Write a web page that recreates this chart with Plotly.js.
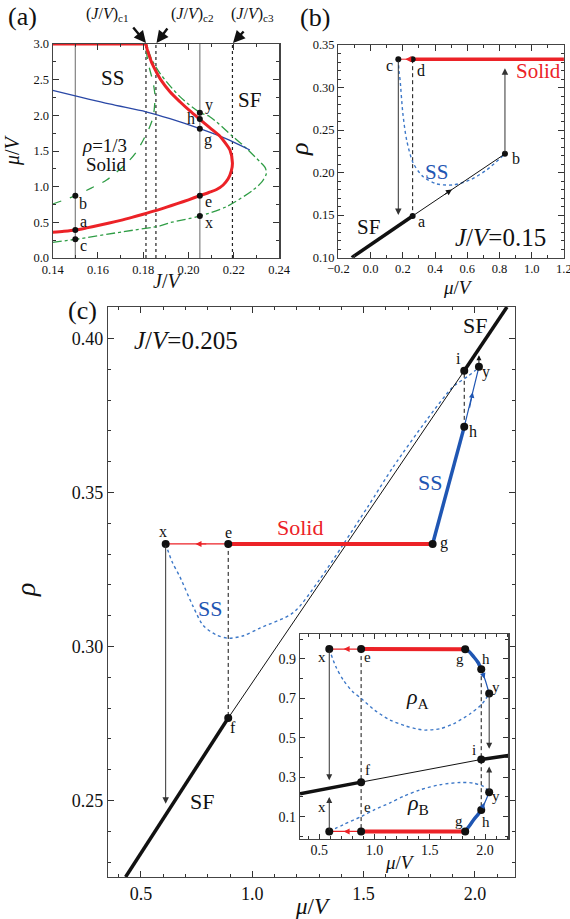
<!DOCTYPE html>
<html><head><meta charset="utf-8">
<script src="https://cdn.plot.ly/plotly-3.0.1.min.js"></script>
<style>html,body{margin:0;padding:0;background:#fff}#chart{width:570px;height:919px}</style>
</head><body><div id="chart"></div>
<script>
// ================= DATA =================
// ---- Panel (a): phase diagram, J/V vs mu/V ----
const aRedTopJ = [0.14, 0.1812];
const aRedTopMu = [3.0, 3.0];
const aRedJ  = [0.1812,0.1816,0.1826,0.1840,0.1859,0.1877,0.1918,0.1962,0.2005,0.205,0.2095,0.2138,0.2163,0.2183,0.2194,0.2189,0.2175,0.2152,0.2124,0.209,0.205,0.2,0.195,0.19,0.185,0.18,0.175,0.17,0.165,0.16,0.155,0.15,0.145,0.14];
const aRedMu = [3.0,2.94,2.84,2.72,2.60,2.50,2.33,2.19,2.065,1.944,1.825,1.71,1.61,1.514,1.33,1.22,1.11,1.02,0.96,0.918,0.874,0.816,0.762,0.71,0.66,0.614,0.57,0.528,0.49,0.455,0.422,0.392,0.374,0.36];
const aDashJ  = [0.14,0.1501,0.157,0.1638,0.1726,0.1768,0.18,0.1826,0.1844,0.1852,0.1848,0.1841,0.1822,0.1812,0.181];
const aDashMu = [0.757,0.874,0.98,1.093,1.327,1.48,1.654,1.82,1.981,2.262,2.38,2.495,2.729,2.94,3.0];
const aDashDotJ  = [0.14,0.1501,0.1712,0.1874,0.1918,0.205,0.2168,0.2285,0.2325,0.2344,0.2338,0.2315,0.2256,0.2197,0.2094,0.205,0.1962,0.1874,0.1835,0.1815];
const aDashDotMu = [0.22,0.262,0.369,0.45,0.495,0.589,0.72,0.953,1.07,1.187,1.27,1.35,1.537,1.70,1.981,2.04,2.262,2.589,2.8,3.0];
const aBlueJ  = [0.14,0.165,0.1812,0.1918,0.205,0.216,0.2271];
const aBlueMu = [2.351,2.16,2.05,1.953,1.813,1.68,1.514];
const aPtJ   = [0.15,0.15,0.15,0.205,0.205,0.205,0.205,0.205];
const aPtMu  = [0.874,0.392,0.262,2.037,1.949,1.813,0.874,0.589];
const aPtLab = ['b','a','c','y','h','g','e','x'];
const aCutJ  = [0.15, 0.205];            // grey solid cuts
const aCritJ = [0.1812, 0.1856, 0.2194]; // (J/V)c1, c2, c3

// ---- Panel (b): J/V = 0.15, rho vs mu/V ----
const bPtMu  = [0.172, 0.261, 0.261, 0.834];
const bPtRho = [0.3333, 0.3333, 0.149, 0.222];
const bPtLab = ['c','d','a','b'];
const bSolidMu = [0.261, 1.2];
const bSFthickMu = [-0.117, 0.261], bSFthickRho = [0.10, 0.149];
const bSFthinMu  = [0.261, 0.834],  bSFthinRho  = [0.149, 0.222];
const bSSMu  = [0.172,0.176,0.183,0.2,0.224,0.265,0.327,0.41,0.513,0.617,0.72,0.834];
const bSSRho = [0.3333,0.32,0.309,0.27,0.238,0.211,0.195,0.1867,0.1855,0.1914,0.203,0.222];

// ---- Panel (c): J/V = 0.205, rho vs mu/V ----
const cLab = ['x','e','g','h','i','y','f'];
const cMu  = [0.611, 0.892, 1.81, 1.952, 1.952, 2.018, 0.892];
const cRho = [0.3333, 0.3333, 0.3333, 0.3713, 0.3895, 0.3908, 0.2768];
const cSFlowMu = [0.431, 0.892],  cSFlowRho = [0.2252, 0.2768];
const cSFmidMu = [0.892, 1.952],  cSFmidRho = [0.2768, 0.3895];
const cSFtopMu = [1.952, 2.144],  cSFtopRho = [0.3895, 0.4102];
const cSSMu  = [0.611,0.64,0.675,0.735,0.78,0.84,0.892,0.96,1.034,1.184,1.3,1.408,1.52,1.633,1.783,1.902,1.97,2.0,2.018];
const cSSRho = [0.3333,0.3275,0.3226,0.3129,0.3068,0.3037,0.3027,0.3035,0.306,0.311,0.3215,0.3331,0.3455,0.3583,0.3735,0.3843,0.3878,0.3895,0.3908];

// ---- Inset: sublattice densities rho_A, rho_B ----
const iLab = ['x','e','g','h','y'];
const iMu  = [0.59, 0.878, 1.82, 1.965, 2.037];
const iRhoA = [0.95, 0.95, 0.949, 0.848, 0.725];
const iRhoB = [0.025, 0.025, 0.025, 0.134, 0.224];
const iF = [0.878, 0.275], iI = [1.965, 0.39];
const iSFlowMu = [0.325, 0.878], iSFlowRho = [0.216, 0.275];
const iSFmidMu = [0.878, 1.965], iSFmidRho = [0.275, 0.39];
const iSFtopMu = [1.965, 2.21],  iSFtopRho = [0.39, 0.41];
const iAthickMu = [1.82, 1.86, 1.895, 1.935, 1.965], iAthickRho = [0.949, 0.935, 0.912, 0.883, 0.848];
const iAthinMu  = [1.965, 2.001, 2.037], iAthinRho = [0.848, 0.793, 0.725];
const iBthickMu = [1.82, 1.86, 1.895, 1.935, 1.965], iBthickRho = [0.025, 0.055, 0.083, 0.11, 0.134];
const iBthinMu  = [1.965, 2.001, 2.037], iBthinRho = [0.134, 0.176, 0.224];
const iSSAMu  = [0.59,0.65,0.717,0.8,0.878,1.0,1.14,1.27,1.382,1.45,1.593,1.714,1.865,1.97,2.037];
const iSSARho = [0.95,0.86,0.793,0.735,0.70,0.64,0.59,0.562,0.545,0.539,0.546,0.571,0.622,0.67,0.725];
const iSSBMu  = [0.59,0.72,0.878,1.0,1.14,1.27,1.412,1.593,1.775,1.895,1.985,2.037];
const iSSBRho = [0.025,0.06,0.10,0.135,0.17,0.205,0.236,0.262,0.273,0.27,0.253,0.224];

// ================= STYLE =================
const SERIF = "'Liberation Serif', 'Times New Roman', Times, serif";
const RED = '#ec2227', BLUE = '#1f56b3', BLUED = '#3d78c8', BLUEA = '#2a48a6';
const GREEN = '#2f9d45', GREY = '#8c8c8c', BLK = '#111';
const DASH = '4px,3px';
const W = 570, H = 919;
const fx = px => px / W, fy = py => 1 - py / H;

function axis(dom, range, dtick, tick0, mdt, fmt, anchor, fs, extra) {
  return Object.assign({
    domain: dom, range: range, dtick: dtick, tick0: tick0, tickformat: fmt,
    anchor: anchor, ticks: 'inside', ticklen: 6, tickwidth: 1, tickcolor: '#333',
    showline: true, linecolor: '#444', linewidth: 1.2, mirror: 'allticks',
    showgrid: false, zeroline: false, fixedrange: true, ticklabeloverflow: 'allow',
    minor: {ticks: 'inside', dtick: mdt, ticklen: 3, tickwidth: 1, tickcolor: '#333', showgrid: false},
    tickfont: {family: SERIF, size: fs, color: BLK}
  }, extra || {});
}

const traces = [];
function line(xa, ya, xs, ys, color, width, dash, shape, extra) {
  traces.push(Object.assign({type: 'scatter', mode: 'lines', x: xs, y: ys, xaxis: xa, yaxis: ya,
    line: {color: color, width: width, dash: dash || 'solid', shape: shape || 'linear', smoothing: 0.8},
    hoverinfo: 'skip'}, extra || {}));
}
function dots(xa, ya, xs, ys, size) {
  traces.push({type: 'scatter', mode: 'markers', x: xs, y: ys, xaxis: xa, yaxis: ya,
    marker: {color: BLK, size: size}, hoverinfo: 'skip', cliponaxis: false});
}

// ---- Panel (a) traces ----
aCutJ.forEach(j => line('x', 'y', [j, j], [0, 3], GREY, 1.3));
aCritJ.forEach(j => line('x', 'y', [j, j], [0, 3], '#222', 1.2, 'dot'));
line('x', 'y', aDashJ, aDashMu, GREEN, 1.3, 'dash', 'spline');
line('x', 'y', aDashDotJ, aDashDotMu, GREEN, 1.3, 'dashdot', 'spline');
line('x', 'y', aBlueJ, aBlueMu, BLUEA, 1.3, 'solid', 'spline');
line('x', 'y', aRedTopJ, aRedTopMu, RED, 3, 'solid', 'linear', {cliponaxis: false});
line('x', 'y', aRedJ, aRedMu, RED, 3, 'solid', 'spline');
dots('x', 'y', aPtJ, aPtMu, 6);

// ---- Panel (b) traces ----
line('x2', 'y2', [bPtMu[1], bPtMu[2]], [bPtRho[1], bPtRho[2]], BLK, 1, DASH);
line('x2', 'y2', bSSMu, bSSRho, BLUED, 1.4, 'dot', 'spline');
line('x2', 'y2', bSFthickMu, bSFthickRho, BLK, 3.5);
line('x2', 'y2', bSFthinMu, bSFthinRho, BLK, 1);
line('x2', 'y2', [bPtMu[0], bPtMu[1]], [0.3333, 0.3333], RED, 1);
line('x2', 'y2', bSolidMu, [0.3333, 0.3333], RED, 3.5, 'solid', 'linear', {cliponaxis: false});
dots('x2', 'y2', bPtMu, bPtRho, 6);

// ---- Panel (c) traces ----
line('x3', 'y3', [cMu[1], cMu[6]], [cRho[1], cRho[6]], BLK, 1, DASH);
line('x3', 'y3', [cMu[3], cMu[4]], [cRho[3], cRho[4]], BLK, 1, DASH);
line('x3', 'y3', cSSMu, cSSRho, BLUED, 1.4, 'dot', 'spline');
line('x3', 'y3', cSFlowMu, cSFlowRho, BLK, 3.5);
line('x3', 'y3', cSFmidMu, cSFmidRho, BLK, 1);
line('x3', 'y3', cSFtopMu, cSFtopRho, BLK, 3.5);
line('x3', 'y3', [cMu[0], cMu[1]], [cRho[0], cRho[1]], RED, 1.2);
line('x3', 'y3', [cMu[1], cMu[2]], [cRho[1], cRho[2]], RED, 4);
line('x3', 'y3', [cMu[2], cMu[3]], [cRho[2], cRho[3]], BLUE, 3.5);
line('x3', 'y3', [cMu[3], 1.985, cMu[5]], [cRho[3], 0.381, cRho[5]], BLUE, 1.2, 'solid', 'spline');
dots('x3', 'y3', cMu, cRho, 8);

// ---- Inset traces ----
line('x4', 'y4', [iMu[1], iMu[1]], [iRhoA[1], iRhoB[1]], BLK, 1, DASH);
line('x4', 'y4', [iMu[3], iMu[3]], [iRhoA[3], iRhoB[3]], BLK, 1, DASH);
line('x4', 'y4', iSSAMu, iSSARho, BLUED, 1.4, 'dot', 'spline');
line('x4', 'y4', iSSBMu, iSSBRho, BLUED, 1.4, 'dot', 'spline');
line('x4', 'y4', iSFlowMu, iSFlowRho, BLK, 3.5);
line('x4', 'y4', iSFmidMu, iSFmidRho, BLK, 1);
line('x4', 'y4', iSFtopMu, iSFtopRho, BLK, 3.5);
line('x4', 'y4', [iMu[0], iMu[1]], [iRhoA[0], iRhoA[1]], RED, 1.2);
line('x4', 'y4', [iMu[1], iMu[2]], [iRhoA[1], iRhoA[2]], RED, 4);
line('x4', 'y4', [iMu[0], iMu[1]], [iRhoB[0], iRhoB[1]], RED, 1.2);
line('x4', 'y4', [iMu[1], iMu[2]], [iRhoB[1], iRhoB[2]], RED, 4);
line('x4', 'y4', iAthickMu, iAthickRho, BLUE, 3.5, 'solid', 'spline');
line('x4', 'y4', iAthinMu, iAthinRho, BLUE, 1.2, 'solid', 'spline');
line('x4', 'y4', iBthickMu, iBthickRho, BLUE, 3.5, 'solid', 'spline');
line('x4', 'y4', iBthinMu, iBthinRho, BLUE, 1.2, 'solid', 'spline');
dots('x4', 'y4', iMu.concat(iMu, [iF[0], iI[0]]), iRhoA.concat(iRhoB, [iF[1], iI[1]]), 8);

// ================= ANNOTATIONS =================
const ann = [];
function T(text, px, py, size, opts) {
  ann.push(Object.assign({xref: 'paper', yref: 'paper', x: fx(px), y: fy(py), text: text, showarrow: false,
    font: {family: SERIF, size: size, color: BLK}, xanchor: 'center', yanchor: 'middle'}, opts || {}));
}
function A(xa, ya, x0, y0, x1, y1, color, w, size) {
  ann.push({xref: xa, yref: ya, axref: xa, ayref: ya, x: x1, y: y1, ax: x0, ay: y0, text: '',
    showarrow: true, arrowhead: 2, arrowsize: size || 1.3, arrowwidth: w || 1, arrowcolor: color});
}
const IT = s => '<i>' + s + '</i>';
const MUV = IT('μ') + '/' + IT('V');
const JV = IT('J') + '/' + IT('V');

// panel letters
T('(a)', 22, 16, 26); T('(b)', 315, 17, 26); T('(c)', 82, 311, 26);

// ---- (a) ----
T('(' + JV + ')<sub>c1</sub>', 107, 15, 16);
T('(' + JV + ')<sub>c2</sub>', 192, 15, 16);
T('(' + JV + ')<sub>c3</sub>', 252, 15, 16);
ann.push({xref: 'paper', yref: 'paper', x: fx(146), y: fy(43), ax: -14, ay: -17, text: '', showarrow: true, arrowhead: 2, arrowsize: 1, arrowwidth: 2.4, arrowcolor: BLK});
ann.push({xref: 'paper', yref: 'paper', x: fx(156.5), y: fy(43), ax: 12, ay: -16, text: '', showarrow: true, arrowhead: 2, arrowsize: 1, arrowwidth: 2.4, arrowcolor: BLK});
ann.push({xref: 'paper', yref: 'paper', x: fx(233), y: fy(43), ax: 12, ay: -13, text: '', showarrow: true, arrowhead: 2, arrowsize: 1, arrowwidth: 2.4, arrowcolor: BLK});
T('SS', 112, 78, 21); T('SF', 249, 100, 21);
T(IT('ρ') + '=1/3', 104, 145, 19); T('Solid', 106, 165, 19);
T('y', 209, 105, 16); T('h', 191, 118, 16); T('g', 208, 140, 16);
T('e', 209, 201, 16); T('x', 209, 223, 16);
T('b', 83, 204, 16); T('a', 83, 221, 16); T('c', 83, 245, 16);
T(MUV, 12, 150, 20, {textangle: -90});
T(JV, 168, 281, 20);

// ---- (b) ----
T(IT('ρ'), 299, 150, 26, {textangle: -90});
T(MUV, 458, 287, 19);
T('c', 389, 65, 16); T('d', 421, 70, 16); T('a', 421, 222, 16); T('b', 516, 158, 16);
T('Solid', 538, 71, 21, {font: {family: SERIF, size: 21, color: RED}});
T('SS', 436, 172, 21, {font: {family: SERIF, size: 21, color: BLUE}});
T('SF', 368, 227, 21);
T(JV + '=0.15', 500, 237, 25);
A('x2', 'y2', bPtMu[0], 0.3333, bPtMu[0], 0.150, '#333', 1, 1.3);
A('x2', 'y2', bPtMu[3], 0.222, bPtMu[3], 0.3226, '#333', 1, 1.3);
A('x2', 'y2', 0.45, 0.1731, 0.505, 0.1801, BLK, 1, 1.2);
A('x2', 'y2', 0.245, 0.3333, 0.215, 0.3333, RED, 1, 1.2);

// ---- (c) ----
T(JV + '=0.205', 186, 340, 25);
T('x', 163, 531, 16); T('e', 228, 532, 16); T('g', 444, 543, 16);
T('h', 473, 431, 16); T('i', 459, 358, 16); T('y', 486, 372, 16); T('f', 233, 727, 16);
T('Solid', 300, 527, 22, {font: {family: SERIF, size: 22, color: RED}});
T('SS', 430, 482, 22, {font: {family: SERIF, size: 22, color: BLUE}});
T('SS', 210, 608, 22, {font: {family: SERIF, size: 22, color: BLUE}});
T('SF', 202, 801, 22); T('SF', 475, 325, 22);
T(IT('ρ'), 25, 590, 28, {textangle: -90});
T(MUV, 313, 906, 23);
A('x3', 'y3', cMu[0], 0.3333, cMu[0], 0.249, '#333', 1, 1.3);
A('x3', 'y3', cMu[5], 0.3908, cMu[5], 0.3945, BLK, 1, 1);
A('x3', 'y3', 0.80, 0.3333, 0.745, 0.3333, RED, 1, 1.2);
A('x3', 'y3', 1.975, 0.377, 1.99, 0.3825, BLUE, 1, 1.1);

// ---- inset ----
T('x', 322, 657, 15); T('e', 367, 657, 15); T('x', 322, 807, 15); T('e', 367, 807, 15);
T('f', 367, 770, 15); T('g', 460, 659, 15); T('h', 486, 659, 15); T('y', 496, 687, 15);
T('i', 474, 750, 15); T('y', 496, 796, 15); T('g', 459, 821, 15); T('h', 486, 822, 15);
T(IT('ρ') + '<sub>A</sub>', 418, 698, 22); T(IT('ρ') + '<sub>B</sub>', 418, 804, 22);
T(MUV, 400, 862, 19);
A('x4', 'y4', iMu[0], iRhoA[0], iMu[0], 0.284, '#333', 1, 1.2);
A('x4', 'y4', iMu[0], iRhoB[0], iMu[0], 0.20, '#333', 1, 1.2);
A('x4', 'y4', iMu[4], iRhoA[4], iMu[4], 0.444, '#333', 1, 1.2);
A('x4', 'y4', iMu[4], iRhoB[4], iMu[4], 0.354, '#333', 1, 1.2);
A('x4', 'y4', 0.78, 0.95, 0.72, 0.95, RED, 1, 1.2);
A('x4', 'y4', 0.78, 0.025, 0.72, 0.025, RED, 1, 1.2);
A('x4', 'y4', 1.98, 0.825, 1.995, 0.80, BLUE, 1, 1.1);
A('x4', 'y4', 1.98, 0.153, 1.995, 0.17, BLUE, 1, 1.1);

// ================= LAYOUT =================
const layout = {
  width: W, height: H, margin: {l: 0, r: 0, t: 0, b: 0, pad: 0},
  paper_bgcolor: '#fff', plot_bgcolor: 'rgba(0,0,0,0)', showlegend: false,
  font: {family: SERIF},
  xaxis:  axis([fx(52.7), fx(279.3)], [0.14, 0.2401], 0.02, 0, 0.01, '.2f', 'y', 12.5),
  yaxis:  axis([fy(258), fy(44)], [0, 3], 0.5, 0, 0.25, '.1f', 'x', 12.5),
  xaxis2: axis([fx(338.3), fx(564)], [-0.2005, 1.2005], 0.2, 0, 0.1, '.1f', 'y2', 12.5, {ticklabelstandoff: -1}),
  yaxis2: axis([fy(257.7), fy(45)], [0.0999, 0.35], 0.05, 0, 0.01, '.2f', 'x2', 12.5),
  xaxis3: axis([fx(108), fx(515)], [0.352, 2.18], 0.5, 0, 0.1, '.1f', 'y3', 18),
  yaxis3: axis([fy(877), fy(307)], [0.2252, 0.4102], 0.05, 0, 0.01, '.2f', 'x3', 18),
  xaxis4: axis([fx(300), fx(508.3)], [0.325, 2.21], 0.5, 0, 0.1, '.1f', 'y4', 14, {ticklen: 5, ticklabelstandoff: -2}),
  yaxis4: axis([fy(838.5), fy(634.3)], [-0.011, 1.025], 0.2, 0.1, 0.1, '.1f', 'x4', 14, {ticklen: 5}),
  annotations: ann
};
Plotly.newPlot('chart', traces, layout, {staticPlot: true, displayModeBar: false});
</script>
</body></html>
